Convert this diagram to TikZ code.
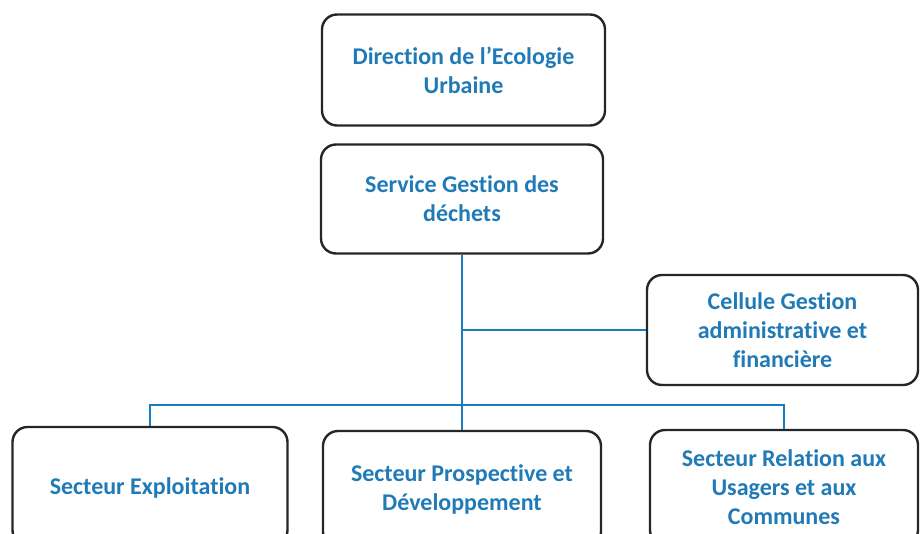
\documentclass[tikz,border=0pt]{standalone}
\usepackage{fontspec}
\setmainfont[RawFeature=-liga]{Carlito}
\definecolor{txtblue}{RGB}{32,122,182}
\definecolor{lnblue}{RGB}{24,124,190}
\begin{document}
\begin{tikzpicture}[x=1pt,y=-1pt,
  box/.style={draw=black!85, line width=2.4pt, rounded corners=15pt, align=center,
    text=txtblue, font=\fontsize{24}{29}\selectfont\bfseries, inner sep=0pt},
  conn/.style={draw=lnblue, line width=2.8pt}]
\useasboundingbox (0,0) rectangle (920,533);
\clip (0,0) rectangle (920,533);
\node[box, minimum width=283pt, minimum height=111pt] (dir) at (463.5,70) {Direction de l’Ecologie\\Urbaine};
\node[box, minimum width=282pt, minimum height=109pt] (serv) at (462,199) {Service Gestion des\\déchets};
\node[box, minimum width=271pt, minimum height=110pt] (cell) at (782.5,330) {Cellule Gestion\\administrative et\\financière};
\node[box, minimum width=275pt, minimum height=118pt, text depth=0pt] (expl) at (150,486) {Secteur Exploitation};
\node[box, minimum width=278pt, minimum height=116pt] (prosp) at (462,489) {Secteur Prospective et\\Développement};
\node[box, minimum width=268pt, minimum height=115pt] (rel) at (784,487.5) {Secteur Relation aux\\Usagers et aux\\Communes};
\coordinate (bus) at (462,405);
\draw[conn] (serv.south) -- (prosp.north);
\draw[conn] (serv.south |- cell.west) -- (cell.west);
\draw[conn] (expl.north) |- (bus) -| (rel.north);
\end{tikzpicture}
\end{document}
